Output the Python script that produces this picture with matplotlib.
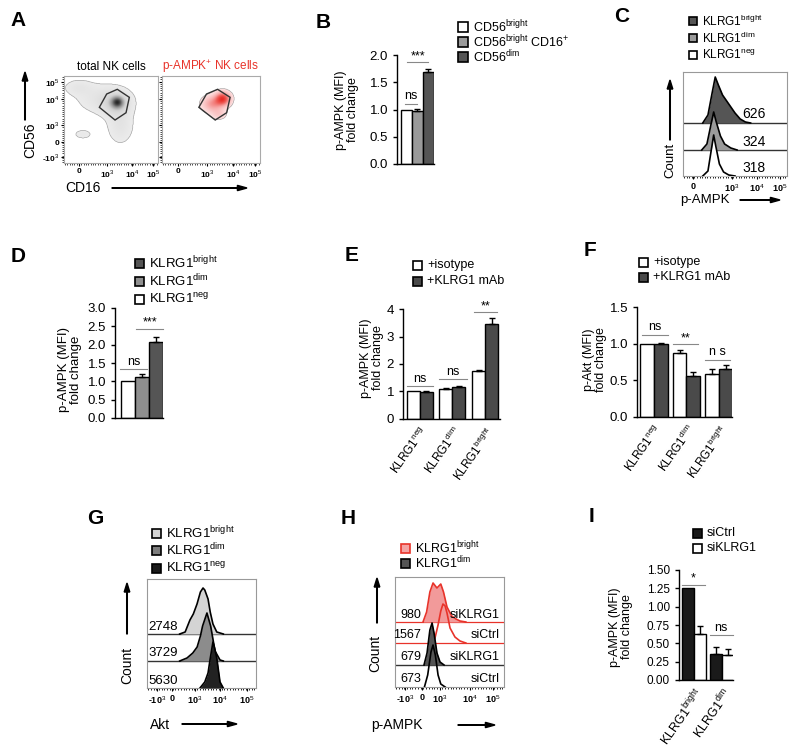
import numpy as np
import matplotlib
matplotlib.use('Agg')
import matplotlib.pyplot as plt
from matplotlib.patches import Rectangle, Polygon, FancyArrow
from matplotlib.colors import LinearSegmentedColormap

plt.rcParams['font.family'] = ['Liberation Sans', 'DejaVu Sans']
plt.rcParams['mathtext.fontset'] = 'custom'
plt.rcParams['mathtext.rm'] = 'Liberation Sans'
plt.rcParams['mathtext.bf'] = 'Liberation Sans:bold'

W, H = 800, 753
RED = '#e8332a'

# ---------------- data ----------------
# A: density blobs (cx, cy, sx, sy, weight) in display units 0-100
a_total_blobs = [(57, 70, 5, 5, 1.0), (55, 68, 10, 9, 0.35), (42, 74, 18, 11, 0.2),
                 (15, 87, 10, 6, 0.15), (60, 44, 9, 14, 0.2), (20, 33, 7, 4, 0.12)]
a_ampk_blobs = [(62, 74, 5, 5, 1.0), (52, 68, 7, 6, 0.5), (58, 56, 5, 4, 0.2)]
a_gate_x = [37.6, 45.4, 56.7, 69.5, 66.0, 54.3]
a_gate_y = [64.0, 79.3, 84.7, 75.5, 57.8, 49.4]

# B
b_labels = [r'CD56$^{\mathrm{bright}}$', r'CD56$^{\mathrm{bright}}$ CD16$^{+}$', r'CD56$^{\mathrm{dim}}$']
b_vals = [1.0, 0.98, 1.69]
b_err = [0.0, 0.03, 0.06]

# C: histogram curves (x, height) per lane
c_labels = [r'KLRG1$^{\mathrm{bright}}$', r'KLRG1$^{\mathrm{dim}}$', r'KLRG1$^{\mathrm{neg}}$']
c_mfi = ['626', '324', '318']
c_bright_x = [19, 24, 28, 31, 34, 38, 42, 46, 50, 55, 60, 65]
c_bright_h = [0, 8, 30, 46, 38, 28, 22, 16, 10, 4, 1, 0]
c_dim_x = [18, 23, 27, 29.5, 32, 36, 40, 46, 52]
c_dim_h = [0, 6, 26, 38, 28, 14, 6, 2, 0]
c_neg_x = [19, 24, 27.5, 29.5, 31.5, 35, 39, 44, 50]
c_neg_h = [0, 5, 28, 41, 30, 12, 4, 1, 0]

# D
d_labels = [r'KLRG1$^{\mathrm{bright}}$', r'KLRG1$^{\mathrm{dim}}$', r'KLRG1$^{\mathrm{neg}}$']
d_vals = [1.0, 1.12, 2.08]
d_err = [0.0, 0.08, 0.13]

# E
klrg_cats = [r'KLRG1$^{\mathrm{neg}}$', r'KLRG1$^{\mathrm{dim}}$', r'KLRG1$^{\mathrm{bright}}$']
e_iso = [1.0, 1.08, 1.73]
e_iso_err = [0.0, 0.03, 0.05]
e_mab = [0.99, 1.17, 3.45]
e_mab_err = [0.03, 0.04, 0.22]

# F
f_iso = [1.0, 0.87, 0.58]
f_iso_err = [0.0, 0.05, 0.08]
f_mab = [0.99, 0.56, 0.65]
f_mab_err = [0.02, 0.05, 0.06]

# G
g_mfi = ['2748', '3729', '5630']
g_bright_x = [30, 35, 39.4, 42.5, 45.9, 49, 51.4, 53, 56, 58, 60.5, 64, 70]
g_bright_h = [0, 2, 14, 20, 30, 42, 46, 44, 35, 22, 10, 2, 0]
g_dim_x = [30, 36.7, 42, 46, 49, 51, 55, 58.4, 62.4, 67, 70]
g_dim_h = [0, 3, 8, 14, 25, 35, 48, 35, 10, 1, 0]
g_neg_x = [48.6, 53, 56, 57.8, 60.5, 62, 64, 67, 70]
g_neg_h = [0, 6, 15, 28, 46, 40, 30, 6, 0]

# H
h_mfi = ['980', '1567', '679', '673']
h_cond = ['siKLRG1', 'siCtrl', 'siKLRG1', 'siCtrl']
h_bsi_x = [25.7, 29, 32, 34.9, 38.5, 42, 44.5, 47.7, 52, 56, 59.6, 65]
h_bsi_h = [0, 10, 30, 39, 34, 38, 30, 15, 6, 3, 1, 0]
h_bct_x = [33, 36.7, 39.5, 42, 44, 46, 47.7, 50.5, 55, 59.6, 65]
h_bct_h = [0, 5, 18, 32, 39, 37, 30, 15, 6, 2, 0]
h_dsi_x = [26.6, 29.4, 32, 34, 35.8, 38.5, 41.3, 45]
h_dsi_h = [0, 12, 35, 42, 32, 12, 3, 0]
h_dct_x = [27, 30, 33, 34.9, 37, 39.5, 42, 46]
h_dct_h = [0, 12, 35, 42, 32, 12, 3, 0]

# I
i_cats = [r'KLRG1$^{\mathrm{bright}}$', r'KLRG1$^{\mathrm{dim}}$']
i_ctrl = [1.25, 0.35]
i_ctrl_err = [0.0, 0.10]
i_si = [0.63, 0.34]
i_si_err = [0.10, 0.08]

fig = plt.figure(figsize=(W / 100, H / 100), dpi=100)


def box(x0, y0, x1, y1):
    return fig.add_axes([x0 / W, 1 - y1 / H, (x1 - x0) / W, (y1 - y0) / H])


def ftext(x, y, s, **kw):
    fig.text(x / W, 1 - y / H, s, **kw)


def letter(x, y, s):
    ftext(x, y, s, fontsize=15, fontweight='bold', ha='center', va='center')


def legend(x, y0, dy, size, labels, fcs, ecs=None, fs=9):
    for k, lab in enumerate(labels):
        y = y0 + k * dy
        ec = ecs[k] if ecs else 'k'
        fig.add_artist(Rectangle((x / W, 1 - (y + size / 2) / H), size / W, size / H,
                                 transform=fig.transFigure, fc=fcs[k], ec=ec, lw=1.2))
        ftext(x + size + 5, y, lab, fontsize=fs, va='center', ha='left')


def arrow_up(x, y0, y1):
    fig.add_artist(FancyArrow(x / W, 1 - y0 / H, 0, (y0 - y1) / H, width=0.0008,
                              head_width=0.007, head_length=0.012,
                              length_includes_head=True, color='k', transform=fig.transFigure))


def arrow_right(x0, x1, y):
    fig.add_artist(FancyArrow(x0 / W, 1 - y / H, (x1 - x0) / W, 0, width=0.0008,
                              head_width=0.007, head_length=0.012,
                              length_includes_head=True, color='k', transform=fig.transFigure))


def bar_style(ax):
    for s in ['top', 'right']:
        ax.spines[s].set_visible(False)
    for s in ['left', 'bottom']:
        ax.spines[s].set_linewidth(1)
    ax.tick_params(axis='both', labelsize=9.5, length=3, width=1)


def bars(ax, x, vals, errs, fc, w):
    ax.bar(x, vals, width=w, color=fc, edgecolor='k', lw=1, zorder=2)
    for xi, v, e in zip(x, vals, errs):
        if e > 0:
            ax.errorbar(xi, v, yerr=[[0], [e]], fmt='none', ecolor='k', elinewidth=1,
                        capsize=2.5, capthick=1, zorder=3)


def sig(ax, x0, x1, y, s, dy):
    ax.plot([x0, x1], [y, y], color='#888888', lw=0.8, clip_on=False)
    ax.text((x0 + x1) / 2, y + dy, s, ha='center', va='bottom', fontsize=9)


def flow_axes(ax, ticks, labels, ymax):
    ax.set_xlim(0, 100)
    ax.set_ylim(0, ymax)
    for s in ax.spines.values():
        s.set_color('#999999')
        s.set_linewidth(0.8)
    ax.set_yticks([])
    ax.set_xticks(ticks)
    ax.set_xticklabels(labels, fontsize=6.5, fontweight='bold')
    ax.set_xticks(np.arange(1, 100, 2.5), minor=True)
    ax.tick_params(axis='x', which='major', length=2.5, width=0.8, pad=2)
    ax.tick_params(axis='x', which='minor', length=1.5, width=0.6)


def curve(ax, xs, hs, base, fc, ec, z):
    xs = np.array(xs, float)
    ys = base + np.array(hs, float)
    if fc is not None:
        ax.fill_between(xs, base, ys, color=fc, lw=0, zorder=z)
    ax.plot(xs, ys, color=ec, lw=1.2, zorder=z + 0.1)


# ---------------- A ----------------
letter(18, 20, 'A')
gx = np.linspace(0, 100, 220)
GX, GY = np.meshgrid(gx, gx)


def density(blobs):
    z = np.zeros_like(GX)
    for cx, cy, sx, sy, wgt in blobs:
        z += wgt * np.exp(-((GX - cx) ** 2 / (2 * sx ** 2) + (GY - cy) ** 2 / (2 * sy ** 2)))
    return z / z.max()


grey_cmap = LinearSegmentedColormap.from_list('g', ['#ececec', '#d0d0d0', '#8a8a8a', '#262626'])
red_cmap = LinearSegmentedColormap.from_list('r', ['#fde2e2', '#f7a9a9', '#ef5f5a', '#e82a25'])
ax_ticks_x = [16, 45.7, 72.3, 94.7]
ax_labels_x = ['0', '10$^3$', '10$^4$', '10$^5$']
for k, (blobs, cmap, title, tcol, thr) in enumerate([
        (a_total_blobs, grey_cmap, 'total NK cells', 'k', 0.045),
        (a_ampk_blobs, red_cmap, r'p-AMPK$^{+}$ NK cells', RED, 0.06)]):
    ax = box(64, 76, 158, 163) if k == 0 else box(162, 76, 260, 163)
    z = density(blobs)
    z = np.ma.masked_less(z, thr)
    ax.imshow(z, extent=(0, 100, 0, 100), origin='lower', cmap=cmap, vmin=thr, vmax=1,
              aspect='auto', interpolation='bilinear')
    ax.add_patch(Polygon(np.column_stack([a_gate_x, a_gate_y]), closed=True, fill=False,
                         ec='#333333', lw=1))
    ax.set_xlim(0, 100)
    ax.set_ylim(0, 100)
    for s in ax.spines.values():
        s.set_color('#aaaaaa')
        s.set_linewidth(0.8)
    ax.set_xticks(ax_ticks_x)
    ax.set_xticklabels(ax_labels_x, fontsize=6, fontweight='bold')
    ax.set_yticks([6.9, 24, 44, 73.6, 93])
    if k == 0:
        ax.set_yticklabels(['-10$^3$', '0', '10$^3$', '10$^4$', '10$^5$'], fontsize=6,
                           fontweight='bold')
    else:
        ax.set_yticklabels([])
    ax.set_xticks(np.arange(1, 100, 2.5), minor=True)
    ax.set_yticks(np.arange(1, 100, 2.5), minor=True)
    ax.tick_params(which='major', length=2, width=0.8, pad=1.5)
    ax.tick_params(which='minor', length=1.2, width=0.5)
    ax.set_title(title, fontsize=8.5, color=tcol, pad=4)
ftext(30, 140, 'CD56', rotation=90, fontsize=10, ha='center', va='center')
arrow_up(25, 120, 72)
ftext(65, 188, 'CD16', fontsize=10, ha='left', va='center')
arrow_right(112, 247, 188)

# ---------------- B ----------------
letter(323, 23, 'B')
legend(458, 27, 15, 10, b_labels, ['white', '#9a9a9a', '#555555'])
ax = box(397, 55, 433.5, 164)
bar_style(ax)
bars(ax, [0, 1, 2], b_vals, b_err, ['white', '#9a9a9a', '#555555'], 1.0)
ax.set_xlim(-0.82, 2.5)
ax.set_ylim(0, 2.0)
ax.set_yticks([0, 0.5, 1.0, 1.5, 2.0])
ax.set_yticklabels(['0.0', '0.5', '1.0', '1.5', '2.0'])
ax.set_xticks([])
sig(ax, -0.1, 1.0, 1.10, 'ns', 0.03)
sig(ax, 0.1, 2.0, 1.87, '***', 0.0)
ftext(347, 110, 'p-AMPK (MFI)\nfold change', rotation=90, fontsize=9, ha='center',
      va='center', linespacing=1.1)

# ---------------- C ----------------
letter(622, 16, 'C')
legend(689, 21, 17, 8, c_labels, ['#555555', '#9a9a9a', 'white'], fs=8.5)
ax = box(683, 72, 787, 176)
flow_axes(ax, [9.6, 46.8, 71.2, 93.3], ['0', '10$^3$', '10$^4$', '10$^5$'], 104)
for b in [26, 53]:
    ax.axhline(b, color='#333333', lw=1, zorder=1)
curve(ax, c_bright_x, c_bright_h, 53, '#555555', 'k', 2)
curve(ax, c_dim_x, c_dim_h, 26, '#9a9a9a', 'k', 3)
curve(ax, c_neg_x, c_neg_h, 0, 'white', 'k', 4)
for lab, b in zip(c_mfi, [53, 26, 0]):
    ax.text(57, b + 1.5, lab, fontsize=10, ha='left', va='bottom', zorder=6)
ftext(670, 160, 'Count', rotation=90, fontsize=9.5, ha='center', va='center')
arrow_up(670, 140, 80)
ftext(705, 200, 'p-AMPK', fontsize=9.5, ha='center', va='center')
arrow_right(740, 780, 200)

# ---------------- D ----------------
letter(18, 257, 'D')
legend(135, 263, 18, 9, d_labels, ['#555555', '#8f8f8f', 'white'], fs=9.5)
ax = box(115, 308, 163, 418)
bar_style(ax)
bars(ax, [0, 1, 2], d_vals, d_err, ['white', '#8f8f8f', '#555555'], 1.0)
ax.set_xlim(-0.89, 2.5)
ax.set_ylim(0, 3.0)
ax.set_yticks(np.arange(0, 3.01, 0.5))
ax.set_yticklabels(['0.0', '0.5', '1.0', '1.5', '2.0', '2.5', '3.0'])
ax.set_xticks([])
sig(ax, -0.54, 1.4, 1.33, 'ns', 0.04)
sig(ax, 0.6, 2.5, 2.43, '***', 0.0)
ftext(70, 370, 'p-AMPK (MFI)\nfold change', rotation=90, fontsize=9.5, ha='center',
      va='center', linespacing=1.1)

# ---------------- E ----------------
letter(352, 256, 'E')
legend(413, 265, 16, 9, ['+isotype', '+KLRG1 mAb'], ['white', '#4a4a4a'])
ax = box(403, 309, 500, 419)
bar_style(ax)
xg = np.arange(3)
bars(ax, xg - 0.2, e_iso, e_iso_err, 'white', 0.4)
bars(ax, xg + 0.2, e_mab, e_mab_err, '#4a4a4a', 0.4)
ax.set_xlim(-0.52, 2.46)
ax.set_ylim(0, 4)
ax.set_yticks([0, 1, 2, 3, 4])
ax.set_xticks(xg)
ax.set_xticklabels(klrg_cats, rotation=55, ha='right', rotation_mode='anchor', fontsize=8.5)
ax.tick_params(axis='x', length=0, pad=4)
sig(ax, -0.4, 0.4, 1.19, 'ns', 0.05)
sig(ax, 0.6, 1.45, 1.45, 'ns', 0.05)
sig(ax, 1.66, 2.37, 3.88, '**', 0.0)
ftext(372, 358, 'p-AMPK (MFI)\nfold change', rotation=90, fontsize=9, ha='center',
      va='center', linespacing=1.1)

# ---------------- F ----------------
letter(590, 251, 'F')
legend(639, 262, 15, 9, ['+isotype', '+KLRG1 mAb'], ['white', '#4a4a4a'])
ax = box(637, 307, 732, 417)
bar_style(ax)
bars(ax, xg - 0.21, f_iso, f_iso_err, 'white', 0.42)
bars(ax, xg + 0.21, f_mab, f_mab_err, '#4a4a4a', 0.42)
ax.set_xlim(-0.52, 2.4)
ax.set_ylim(0, 1.5)
ax.set_yticks([0, 0.5, 1.0, 1.5])
ax.set_yticklabels(['0.0', '0.5', '1.0', '1.5'])
ax.set_xticks(xg)
ax.set_xticklabels(klrg_cats, rotation=55, ha='right', rotation_mode='anchor', fontsize=8.5)
ax.tick_params(axis='x', length=0, pad=4)
sig(ax, -0.37, 0.43, 1.12, 'ns', 0.02)
sig(ax, 0.58, 1.35, 0.99, '**', 0.0)
sig(ax, 1.57, 2.34, 0.78, 'n s', 0.02)
ftext(595, 360, 'p-Akt (MFI)\nfold change', rotation=90, fontsize=9, ha='center',
      va='center', linespacing=1.1)

# ---------------- G ----------------
letter(95, 518, 'G')
legend(152, 533, 17.5, 9, c_labels, ['#d4d4d4', '#7d7d7d', '#1a1a1a'], fs=9.5)
ax = box(147, 579, 256, 688)
flow_axes(ax, [9.2, 22.9, 44, 67, 91.7], ['-10$^3$', '0', '10$^3$', '10$^4$', '10$^5$'], 109)
for b in [27, 54]:
    ax.axhline(b, color='#333333', lw=1, zorder=1)
curve(ax, g_bright_x, g_bright_h, 54, '#d4d4d4', 'k', 2)
curve(ax, g_dim_x, g_dim_h, 27, '#8c8c8c', 'k', 3)
curve(ax, g_neg_x, g_neg_h, 0, '#222222', 'k', 4)
for lab, b in zip(g_mfi, [54, 27, 0]):
    ax.text(1.5, b + 1.5, lab, fontsize=9.5, ha='left', va='bottom', zorder=6)
ftext(127, 665, 'Count', rotation=90, fontsize=10, ha='center', va='center')
arrow_up(127, 634, 583)
ftext(160, 725, 'Akt', fontsize=10, ha='center', va='center')
arrow_right(182, 237, 724)

# ---------------- H ----------------
letter(348, 518, 'H')
legend(401, 548, 15, 9, [r'KLRG1$^{\mathrm{bright}}$', r'KLRG1$^{\mathrm{dim}}$'],
       ['#f4a3a3', '#555555'], ecs=[RED, 'k'])
ax = box(395, 577, 504, 687)
flow_axes(ax, [9.2, 24.8, 41.3, 68.8, 89.9], ['-10$^3$', '0', '10$^3$', '10$^4$', '10$^5$'], 110)
ax.axhline(65, color=RED, lw=0.9, zorder=1)
ax.axhline(44, color=RED, lw=0.9, zorder=1)
ax.axhline(22, color='#333333', lw=1, zorder=1)
curve(ax, h_bsi_x, h_bsi_h, 65, '#f29a9a', RED, 2)
curve(ax, h_bct_x, h_bct_h, 44, None, RED, 3)
curve(ax, h_dsi_x, h_dsi_h, 22, '#555555', 'k', 4)
curve(ax, h_dct_x, h_dct_h, 0, None, 'k', 5)
for lab, cond, b in zip(h_mfi, h_cond, [65, 44, 22, 0]):
    ax.text(24, b + 1.5, lab, fontsize=9, ha='right', va='bottom', zorder=6)
    ax.text(96, b + 1.5, cond, fontsize=9, ha='right', va='bottom', zorder=6)
ftext(375, 653, 'Count', rotation=90, fontsize=10, ha='center', va='center')
arrow_up(377, 623, 578)
ftext(397, 725, 'p-AMPK', fontsize=10, ha='center', va='center')
arrow_right(458, 495, 725)

# ---------------- I ----------------
letter(592, 517, 'I')
legend(693, 533, 15, 9, ['siCtrl', 'siKLRG1'], ['#1a1a1a', 'white'])
ax = box(679, 570, 733, 680)
bar_style(ax)
xi = np.arange(2)
bars(ax, xi - 0.215, i_ctrl, i_ctrl_err, '#1a1a1a', 0.43)
bars(ax, xi + 0.215, i_si, i_si_err, 'white', 0.43)
ax.set_xlim(-0.54, 1.4)
ax.set_ylim(0, 1.5)
ax.set_yticks(np.arange(0, 1.51, 0.25))
ax.set_yticklabels(['0.00', '0.25', '0.50', '0.75', '1.00', '1.25', '1.50'])
ax.tick_params(axis='y', labelsize=8.5)
ax.set_xticks(xi)
ax.set_xticklabels(i_cats, rotation=55, ha='right', rotation_mode='anchor', fontsize=9)
ax.tick_params(axis='x', length=0, pad=4)
sig(ax, -0.43, 0.4, 1.30, '*', 0.0)
sig(ax, 0.57, 1.39, 0.61, 'ns', 0.02)
ftext(621, 627, 'p-AMPK (MFI)\nfold change', rotation=90, fontsize=9, ha='center',
      va='center', linespacing=1.1)

fig.savefig('out.png', dpi=100)
